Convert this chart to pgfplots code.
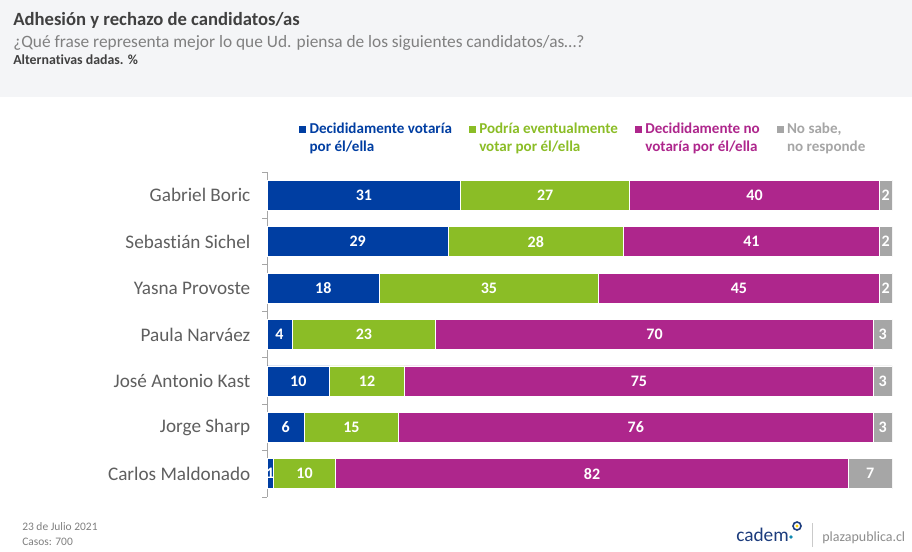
\documentclass[border=0pt]{standalone}
\usepackage{pgfplots}
\pgfplotsset{compat=1.18}
\usepackage{pgfplotstable}
\usepackage{fontspec}
\setmainfont{Carlito}[Ligatures=NoCommon]
\definecolor{cblue}{RGB}{0,62,162}
\definecolor{cgreen}{RGB}{139,189,38}
\definecolor{cmag}{RGB}{174,38,140}
\definecolor{cgray}{RGB}{166,166,166}
\definecolor{ctext}{RGB}{64,64,64}
\definecolor{clab}{RGB}{95,95,95}
\definecolor{csub}{RGB}{128,128,128}
\definecolor{chead}{RGB}{244,245,247}
\definecolor{cnavy}{RGB}{28,60,125}
\pgfplotstableread{
y a b c d
0 31 27 40 2
1 29 28 41 2
2 18 35 45 2
3 4 23 70 3
4 10 12 75 3
5 6 15 76 3
6 1 10 82 7
}\data
\begin{document}
\begin{tikzpicture}[x=0.75pt,y=0.75pt]
\fill[white] (0,0) rectangle (912,551);
\fill[chead] (0,454) rectangle (912,551);
\node[anchor=base west, inner sep=0, text=ctext, font=\bfseries\fontsize{14}{17}\selectfont] at (13,525) {Adhesión y rechazo de candidatos/as};
\node[anchor=base west, inner sep=0, text=csub, font=\fontsize{13}{15}\selectfont] at (13,503) {¿Qué frase representa mejor lo que Ud. piensa de los siguientes candidatos/as…?};
\node[anchor=base west, inner sep=0, text=ctext, font=\bfseries\fontsize{10.4}{12}\selectfont] at (13,486) {Alternativas dadas. \%};
\begin{axis}[
  at={(200.25pt,40.5pt)}, anchor=south west,
  scale only axis, width=468.75pt, height=243.75pt,
  xbar stacked, bar width=22.5pt,
  xmin=0, xmax=100, ymin=-0.5, ymax=6.5, y dir=reverse,
  axis x line=none, axis y line*=left,
  axis line style={draw=cgray, line width=0.6pt},
  ytick={0,...,6},
  yticklabels={Gabriel Boric, Sebastián Sichel, Yasna Provoste, Paula Narváez, José Antonio Kast, Jorge Sharp, Carlos Maldonado},
  major tick length=0pt,
  minor ytick={-0.5,0.5,...,6.5},
  minor tick length=3.75pt,
  tick align=outside,
  minor tick style={draw=cgray, line width=0.6pt},
  yticklabel style={font=\fontsize{14.4}{16}\selectfont, text=clab, xshift=-9pt},
  legend style={at={(0.0496,1)}, anchor=north west, yshift=39.2pt, draw=none, fill=none, inner sep=0pt,
    font=\bfseries\fontsize{11.3}{13.5}\selectfont, /tikz/every even column/.append style={column sep=10pt}},
  legend columns=4,
  legend cell align=left,
  legend image code/.code={\fill[#1] (0pt,3.75pt) rectangle (6pt,9.75pt);},
  lbl/.style={point meta=\thisrow{#1},
    nodes near coords={\pgfmathprintnumber[assume math mode=true]{\pgfplotspointmeta}},
    every node near coord/.append style={anchor=center, font=\bfseries\fontsize{12}{14}\selectfont, text=white}},
]
\addplot[fill=cblue, draw=white, line width=0.5pt, lbl=a] table[x=a, y=y]{\data};
\addlegendentry[text=cblue, align=left]{Decididamente votaría\\por él/ella}
\addplot[fill=cgreen, draw=white, line width=0.5pt, lbl=b] table[x=b, y=y]{\data};
\addlegendentry[text=cgreen, align=left]{Podría eventualmente\\votar por él/ella}
\addplot[fill=cmag, draw=white, line width=0.5pt, lbl=c] table[x=c, y=y]{\data};
\addlegendentry[text=cmag, align=left]{Decididamente no\\votaría por él/ella}
\addplot[fill=cgray, draw=white, line width=0.5pt, lbl=d] table[x=d, y=y]{\data};
\addlegendentry[text=cgray, align=left]{No sabe,\\no responde}
\end{axis}
\node[anchor=base west, inner sep=0, text=csub, font=\fontsize{8.6}{10}\selectfont] at (22,21) {23 de Julio 2021};
\node[anchor=base west, inner sep=0, text=csub, font=\fontsize{8.6}{10}\selectfont] at (22,6) {Casos: 700};
\draw[cgray!60, line width=0.6pt] (812,4) -- (812,28);
\node[anchor=base west, inner sep=0, text=csub!90, font=\fontsize{10.5}{12}\selectfont] at (822,10) {plazapublica.cl};
\node[anchor=base west, inner sep=0, text=cnavy, font=\fontsize{14.5}{16}\selectfont] at (736,10) {cadem};
\draw[cnavy, line width=1.2pt] (797,25) circle (4);
\fill[yellow!70!orange] (797,25) circle (1.6);
\fill[cnavy!60!cyan] (791,14) circle (1.8);
\end{tikzpicture}
\end{document}
